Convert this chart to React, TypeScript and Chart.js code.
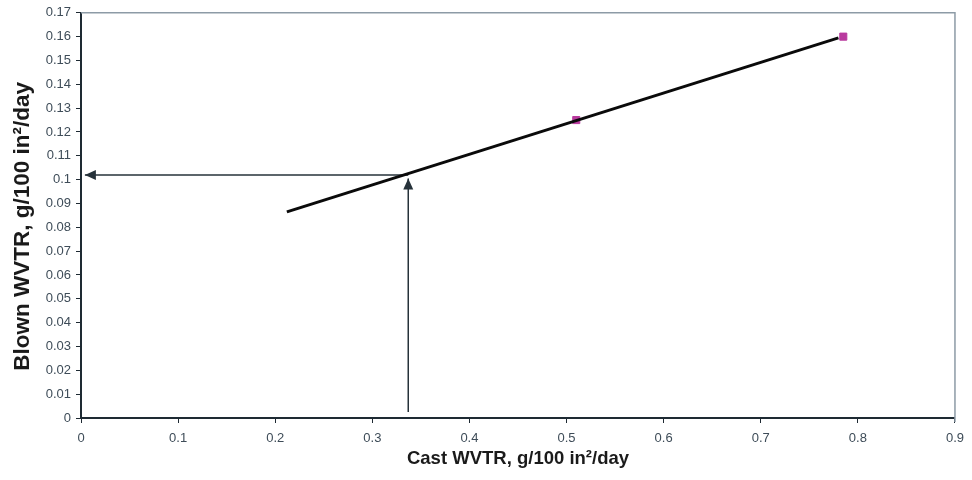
import { useEffect, useRef } from 'react';
import { Chart, registerables } from 'chart.js';

Chart.register(...registerables);

// Measured film samples: cast vs. blown WVTR (g/100 in²/day)
const castWvtr = [0.51, 0.785];
const blownWvtr = [0.125, 0.16];

// Linear trendline through the samples
const trendX = [0.212, 0.78];
const trendY = [0.0865, 0.1595];

// Read-off arrows: up from the cast value, then across to the blown axis
const vertArrowX = [0.337, 0.337];
const vertArrowY = [0.0025, 0.1005];
const horizArrowX = [0.337, 0.004];
const horizArrowY = [0.102, 0.102];

const xTicks = [0, 0.1, 0.2, 0.3, 0.4, 0.5, 0.6, 0.7, 0.8, 0.9];
const yTicks = [
  0, 0.01, 0.02, 0.03, 0.04, 0.05, 0.06, 0.07, 0.08, 0.09, 0.1, 0.11, 0.12,
  0.13, 0.14, 0.15, 0.16, 0.17,
];

const xTitle = 'Cast WVTR, g/100 in²/day';
const yTitle = 'Blown WVTR, g/100 in²/day';

const toPoints = (xs: number[], ys: number[]) => xs.map((x, i) => ({ x, y: ys[i] }));

const FONT = '"Liberation Sans", Arial, sans-serif';
const AXIS_COLOR = '#1e2a33';
const TICK_TEXT = '#3e4c58';

// Grey frame on the top and right of the plot area
const plotFrame = {
  id: 'plotFrame',
  beforeDatasetsDraw(chart: any) {
    const { ctx, chartArea } = chart;
    ctx.save();
    ctx.strokeStyle = '#8d9ba6';
    ctx.lineWidth = 1.5;
    ctx.beginPath();
    ctx.moveTo(chartArea.left, chartArea.top);
    ctx.lineTo(chartArea.right, chartArea.top);
    ctx.lineTo(chartArea.right, chartArea.bottom + 4);
    ctx.stroke();
    ctx.restore();
  },
};

// Rotated y-axis title, set a little below the axis midpoint
const yAxisTitle = {
  id: 'yAxisTitle',
  afterDraw(chart: any) {
    const { ctx, chartArea } = chart;
    const cy = (chartArea.top + chartArea.bottom) / 2 + 11;
    ctx.save();
    ctx.translate(23, cy);
    ctx.rotate(-Math.PI / 2);
    ctx.font = `bold 22.5px ${FONT}`;
    ctx.fillStyle = '#1a1a1a';
    ctx.textAlign = 'center';
    ctx.textBaseline = 'middle';
    ctx.fillText(yTitle, 0, 0);
    ctx.restore();
  },
};

// Solid triangular heads at the last point of datasets flagged with arrowHead
const arrowHeads = {
  id: 'arrowHeads',
  afterDatasetsDraw(chart: any) {
    const { ctx } = chart;
    chart.data.datasets.forEach((ds: any, i: number) => {
      if (!ds.arrowHead) return;
      const pts = chart.getDatasetMeta(i).data;
      if (pts.length < 2) return;
      const a = pts[pts.length - 2];
      const b = pts[pts.length - 1];
      const ang = Math.atan2(b.y - a.y, b.x - a.x);
      const len = 11;
      const half = 5;
      ctx.save();
      ctx.fillStyle = ds.borderColor;
      ctx.translate(b.x, b.y);
      ctx.rotate(ang);
      ctx.beginPath();
      ctx.moveTo(0, 0);
      ctx.lineTo(-len, -half);
      ctx.lineTo(-len, half);
      ctx.closePath();
      ctx.fill();
      ctx.restore();
    });
  },
};

export default function App() {
  const canvasRef = useRef<HTMLCanvasElement | null>(null);

  useEffect(() => {
    if (!canvasRef.current) return;
    const chart = new Chart(canvasRef.current, {
      type: 'scatter',
      data: {
        datasets: [
          {
            label: 'Trend',
            data: toPoints(trendX, trendY),
            showLine: true,
            borderColor: '#0a0a0a',
            borderWidth: 3,
            pointRadius: 0,
          },
          {
            label: 'Cast reading',
            data: toPoints(vertArrowX, vertArrowY),
            showLine: true,
            borderColor: '#26323a',
            borderWidth: 1.5,
            pointRadius: 0,
            arrowHead: true,
          } as any,
          {
            label: 'Blown reading',
            data: toPoints(horizArrowX, horizArrowY),
            showLine: true,
            borderColor: '#26323a',
            borderWidth: 1.5,
            pointRadius: 0,
            arrowHead: true,
          } as any,
          {
            label: 'Samples',
            data: toPoints(castWvtr, blownWvtr),
            backgroundColor: '#b93a9e',
            borderColor: '#b93a9e',
            pointStyle: 'rect',
            pointRadius: 5,
            showLine: false,
          },
        ],
      },
      options: {
        animation: false,
        responsive: true,
        maintainAspectRatio: false,
        layout: { padding: { left: 0, top: 12, right: 17, bottom: 0 } },
        plugins: {
          legend: { display: false },
          tooltip: { enabled: false },
        },
        scales: {
          x: {
            type: 'linear',
            min: 0,
            max: 0.9,
            afterBuildTicks: (scale: any) => {
              scale.ticks = xTicks.map((value) => ({ value }));
            },
            afterFit: (scale: any) => {
              scale.height = 62;
            },
            ticks: {
              callback: (v: any) => String(v),
              color: TICK_TEXT,
              font: { family: FONT, size: 13 },
              padding: 8,
              maxRotation: 0,
            },
            grid: {
              drawOnChartArea: false,
              drawTicks: true,
              tickLength: 5,
              color: AXIS_COLOR,
              lineWidth: 1,
            },
            border: { color: AXIS_COLOR, width: 2 },
            title: {
              display: true,
              text: xTitle,
              color: '#1a1a1a',
              font: { family: FONT, size: 18.5, weight: 'bold' },
              padding: { top: 0, bottom: 10 },
            },
          },
          y: {
            type: 'linear',
            min: 0,
            max: 0.17,
            afterBuildTicks: (scale: any) => {
              scale.ticks = yTicks.map((value) => ({ value }));
            },
            afterFit: (scale: any) => {
              scale.width = 81;
            },
            ticks: {
              callback: (v: any) => String(v),
              color: TICK_TEXT,
              font: { family: FONT, size: 13 },
              padding: 5,
            },
            grid: {
              drawOnChartArea: false,
              drawTicks: true,
              tickLength: 5,
              color: AXIS_COLOR,
              lineWidth: 1,
            },
            border: { color: AXIS_COLOR, width: 2 },
            title: { display: false },
          },
        },
      } as any,
      plugins: [plotFrame, arrowHeads, yAxisTitle],
    });
    return () => chart.destroy();
  }, []);

  return (
    <div
      style={{
        position: 'absolute',
        left: 0,
        top: 0,
        width: 972,
        height: 480,
        background: '#ffffff',
      }}
    >
      <canvas ref={canvasRef} />
    </div>
  );
}
